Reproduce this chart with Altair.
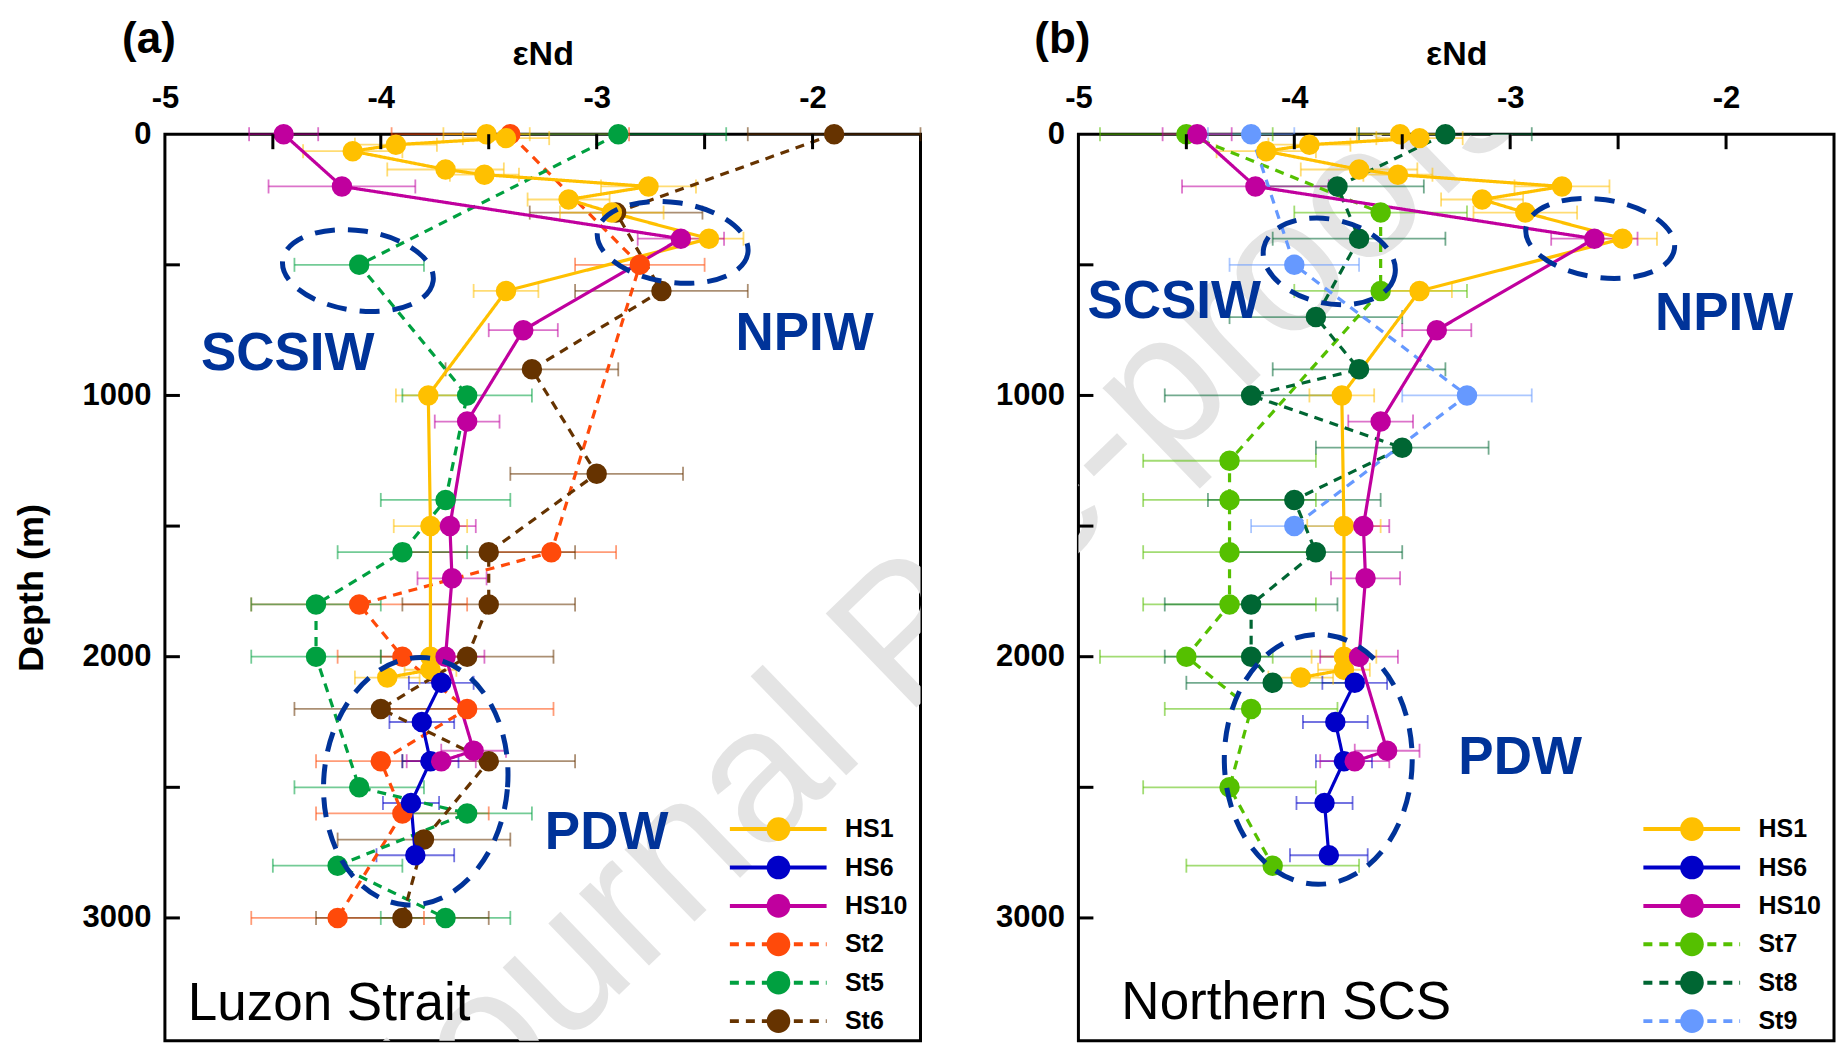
import altair as alt
import pandas as pd

FONT = "Liberation Sans, Arial, Helvetica, sans-serif"
NAVY = "#003399"

# ---------------- εNd depth profiles: depth (m), εNd, error ----------------
HS1_DEPTH = [0, 15, 40, 65, 135, 155, 200, 250, 300, 400, 600, 1000, 1500, 2000, 2050, 2080]
HS1_END = [-3.51, -3.42, -3.93, -4.13, -3.70, -3.52, -2.76, -3.13, -2.93, -2.48, -3.42, -3.78,
           -3.77, -3.77, -3.77, -3.97]
HS1_ERR = [0.20, 0.20, 0.19, 0.23, 0.27, 0.16, 0.22, 0.19, 0.24, 0.16, 0.15, 0.15, 0.17, 0.15,
           0.12, 0.15]

HS6_DEPTH = [2100, 2250, 2400, 2560, 2760]
HS6_END = [-3.72, -3.81, -3.77, -3.86, -3.84]
HS6_ERR = [0.15, 0.15, 0.13, 0.13, 0.18]

HS10_DEPTH = [0, 200, 400, 750, 1100, 1500, 1700, 2000, 2360, 2400]
HS10_END = [-4.45, -4.18, -2.61, -3.34, -3.60, -3.68, -3.67, -3.70, -3.57, -3.72]
HS10_ERR = [0.16, 0.34, 0.20, 0.16, 0.15, 0.12, 0.16, 0.18, 0.15, 0.16]

ST2_DEPTH = [0, 500, 1600, 1800, 2000, 2200, 2400, 2600, 3000]
ST2_END = [-3.40, -2.80, -3.21, -4.10, -3.90, -3.60, -4.00, -3.90, -4.20]
ST2_ERR = [0.55, 0.30, 0.30, 0.50, 0.30, 0.40, 0.30, 0.40, 0.40]

ST5_DEPTH = [0, 500, 1000, 1400, 1600, 1800, 2000, 2500, 2600, 2800, 3000]
ST5_END = [-2.90, -4.10, -3.60, -3.70, -3.90, -4.30, -4.30, -4.10, -3.60, -4.20, -3.70]
ST5_ERR = [0.50, 0.30, 0.30, 0.30, 0.30, 0.30, 0.30, 0.30, 0.30, 0.30, 0.30]

ST6_DEPTH = [0, 300, 600, 900, 1300, 1600, 1800, 2000, 2200, 2400, 2700, 3000]
ST6_END = [-1.90, -2.91, -2.70, -3.30, -3.00, -3.50, -3.50, -3.60, -4.00, -3.50, -3.80, -3.90]
ST6_ERR = [0.40] * 12

ST7_DEPTH = [0, 300, 600, 1250, 1400, 1600, 1800, 2000, 2200, 2500, 2800]
ST7_END = [-4.50, -3.60, -3.60, -4.30, -4.30, -4.30, -4.30, -4.50, -4.20, -4.30, -4.10]
ST7_ERR = [0.40] * 11

ST8_DEPTH = [0, 200, 400, 700, 900, 1000, 1200, 1400, 1600, 1800, 2000, 2100]
ST8_END = [-3.30, -3.80, -3.70, -3.90, -3.70, -4.20, -3.50, -4.00, -3.90, -4.20, -4.20, -4.10]
ST8_ERR = [0.40] * 12

ST9_DEPTH = [0, 500, 1000, 1500]
ST9_END = [-4.20, -4.00, -3.20, -4.00]
ST9_ERR = [0.20, 0.30, 0.30, 0.20]

PROFILES = {
    "HS1": (HS1_DEPTH, HS1_END, HS1_ERR),
    "HS6": (HS6_DEPTH, HS6_END, HS6_ERR),
    "HS10": (HS10_DEPTH, HS10_END, HS10_ERR),
    "St2": (ST2_DEPTH, ST2_END, ST2_ERR),
    "St5": (ST5_DEPTH, ST5_END, ST5_ERR),
    "St6": (ST6_DEPTH, ST6_END, ST6_ERR),
    "St7": (ST7_DEPTH, ST7_END, ST7_ERR),
    "St8": (ST8_DEPTH, ST8_END, ST8_ERR),
    "St9": (ST9_DEPTH, ST9_END, ST9_ERR),
}

SERIES = ["HS1", "HS6", "HS10", "St2", "St5", "St6", "St7", "St8", "St9"]
COLORS = ["#FFC000", "#0000C8", "#C0009E", "#FF4A0A", "#00A040", "#663300",
          "#55C000", "#006633", "#6699FF"]
DASHES = [[1, 0], [1, 0], [1, 0], [9, 7], [9, 7], [9, 7], [9, 7], [9, 7], [9, 7]]

X_LABELS = [-5, -4, -3, -2]
X_TICKS = [-4.5, -4, -3.5, -3, -2.5, -2]
Y_LABELS = [0, 1000, 2000, 3000]
Y_TICKS = [500, 1000, 1500, 2000, 2500, 3000]

W, H = 756, 907
XSCALE = alt.Scale(domain=[-5, -1.5], nice=False, zero=False)
YSCALE = alt.Scale(domain=[0, 3470], nice=False, zero=False, reverse=True)

COLOR = alt.Color("series:N", scale=alt.Scale(domain=SERIES, range=COLORS), legend=None)
DASH = alt.StrokeDash("series:N", scale=alt.Scale(domain=SERIES, range=DASHES), legend=None)

X_AXIS = alt.Axis(
    orient="top", values=X_LABELS, labelExpr="'' + datum.value", ticks=False, tickSize=0,
    domain=False, grid=False, labelFlush=False, labelOverlap=False, labelPadding=27,
    labelBaseline="alphabetic", labelFont=FONT, labelFontSize=31, labelFontWeight="bold",
    labelColor="black", titleFont=FONT, titleFontSize=34, titleFontWeight="bold",
    titleColor="black", titleY=-70, titleBaseline="alphabetic",
)
Y_AXIS = alt.Axis(
    orient="left", values=Y_LABELS, labelExpr="'' + datum.value", ticks=False, tickSize=0,
    domain=False, grid=False, labelFlush=False, labelOverlap=False, labelPadding=14,
    labelFont=FONT, labelFontSize=31, labelFontWeight="bold", labelColor="black",
    titleFont=FONT, titleFontSize=36, titleFontWeight="bold", titleColor="black",
    titleAngle=270, titleX=-122, titleY=H / 2, titleAlign="center", titleBaseline="alphabetic",
)


def xenc(field):
    return alt.X(field, type="quantitative", scale=XSCALE, axis=X_AXIS, title="εNd")


def yenc(field, ytitle):
    return alt.Y(field, type="quantitative", scale=YSCALE, axis=Y_AXIS, title=ytitle)


def profile_frame(names):
    rows = []
    for name in names:
        depth, end, err = PROFILES[name]
        for i, (d, v, e) in enumerate(zip(depth, end, err)):
            rows.append({"series": name, "idx": i, "depth": d, "end": v,
                         "lo": v - e, "hi": v + e})
    return pd.DataFrame(rows)


def ellipse_path(rx, ry):
    # closed ellipse from four cubic segments, scaled so the larger radius is 1
    m = max(rx, ry)
    a, b = rx / m, ry / m
    c = 0.5523
    return (f"M {a:.4f} 0 C {a:.4f} {c*b:.4f} {c*a:.4f} {b:.4f} 0 {b:.4f} "
            f"C {-c*a:.4f} {b:.4f} {-a:.4f} {c*b:.4f} {-a:.4f} 0 "
            f"C {-a:.4f} {-c*b:.4f} {-c*a:.4f} {-b:.4f} 0 {-b:.4f} "
            f"C {c*a:.4f} {-b:.4f} {a:.4f} {-c*b:.4f} {a:.4f} 0 Z")


def panel(stations, letter, region, region_x, region_depth, ellipses, labels, ytitle, mark_x):
    names = ["HS1", "HS6", "HS10"] + stations
    st_df = profile_frame(stations)
    hs_df = profile_frame(["HS1", "HS6", "HS10"])
    all_df = profile_frame(stations + ["HS1", "HS6", "HS10"])

    layers = []

    # faint diagonal watermark, clipped to the plotting area
    layers.append(
        alt.Chart(pd.DataFrame({"t": ["Journal Pre-proofs"]}))
        .mark_text(clip=True, angle=316, fontSize=190, color="#e4e4e4", font=FONT,
                   align="center", baseline="middle")
        .encode(text="t:N", x=alt.value(mark_x), y=alt.value(470))
    )

    # horizontal error bars with end caps
    eb = alt.Chart(all_df)
    layers.append(eb.mark_rule(strokeWidth=1.8, opacity=0.55).encode(
        x=xenc("lo"), x2="hi:Q", y=yenc("depth", ytitle), color=COLOR))
    layers.append(eb.mark_tick(orient="vertical", size=14, thickness=1.8, opacity=0.55).encode(
        x=xenc("lo"), y=yenc("depth", ytitle), color=COLOR))
    layers.append(eb.mark_tick(orient="vertical", size=14, thickness=1.8, opacity=0.55).encode(
        x=xenc("hi"), y=yenc("depth", ytitle), color=COLOR))

    # profile lines: stations (dashed) beneath the HS cores (solid)
    for df in (st_df, hs_df):
        layers.append(alt.Chart(df).mark_line(strokeWidth=3.2).encode(
            x=xenc("end"), y=yenc("depth", ytitle), color=COLOR, strokeDash=DASH,
            detail="series:N", order=alt.Order("idx:Q")))
    layers.append(alt.Chart(all_df).mark_circle(size=420, opacity=1).encode(
        x=xenc("end"), y=yenc("depth", ytitle), color=COLOR))

    # dashed ellipses marking the water masses
    ell = pd.DataFrame(ellipses, columns=["cx", "cy", "rx", "ry", "ang"])
    ell["path"] = [ellipse_path(r.rx, r.ry) for r in ell.itertuples()]
    ell["sz"] = [(2 * max(r.rx, r.ry)) ** 2 for r in ell.itertuples()]
    layers.append(alt.Chart(ell).mark_point(
        filled=False, color=NAVY, strokeWidth=5, strokeDash=[20, 13], opacity=1).encode(
        x=xenc("cx"), y=yenc("cy", ytitle),
        shape=alt.Shape("path:N", scale=None),
        size=alt.Size("sz:Q", scale=None),
        angle=alt.Angle("ang:Q", scale=None)))

    # water-mass labels
    lab = pd.DataFrame(labels, columns=["t", "lx", "ly"])
    layers.append(alt.Chart(lab).mark_text(
        font=FONT, fontSize=53, fontWeight="bold", color=NAVY, align="center",
        baseline="middle").encode(text="t:N", x=xenc("lx"), y=yenc("ly", ytitle)))

    # region name
    layers.append(alt.Chart(pd.DataFrame({"t": [region], "lx": [region_x],
                                          "ly": [region_depth]})).mark_text(
        font=FONT, fontSize=53, color="black", align="left", baseline="alphabetic").encode(
        text="t:N", x=xenc("lx"), y=yenc("ly", ytitle)))

    # legend drawn inside the frame, bottom right
    leg = alt.Chart(pd.DataFrame({"series": names, "row": list(range(len(names)))})) \
        .transform_calculate(ly="2660 + datum.row * 147", x1="-2.383", x2="-1.935",
                             mx="-2.158", tx="-1.85")
    layers.append(leg.mark_rule(strokeWidth=4).encode(
        x=xenc("x1"), x2="x2:Q", y=yenc("ly", ytitle), color=COLOR, strokeDash=DASH))
    layers.append(leg.mark_circle(size=560, opacity=1).encode(
        x=xenc("mx"), y=yenc("ly", ytitle), color=COLOR))
    layers.append(leg.mark_text(font=FONT, fontSize=25, fontWeight="bold", color="black",
                                align="left", baseline="middle").encode(
        text="series:N", x=xenc("tx"), y=yenc("ly", ytitle)))

    # inward-pointing ticks on the top and left frame
    layers.append(alt.Chart(pd.DataFrame({"v": X_TICKS})).mark_rule(
        color="black", strokeWidth=3).encode(x=xenc("v"), y=alt.value(0), y2=alt.value(15)))
    layers.append(alt.Chart(pd.DataFrame({"v": Y_TICKS})).mark_rule(
        color="black", strokeWidth=3).encode(y=yenc("v", ytitle), x=alt.value(0), x2=alt.value(15)))

    # panel letter
    layers.append(alt.Chart(pd.DataFrame({"t": [letter]})).mark_text(
        font=FONT, fontSize=44, fontWeight="bold", color="black", align="center",
        baseline="middle").encode(text="t:N", x=alt.value(-16), y=alt.value(-94)))

    return alt.layer(*layers).properties(width=W, height=H)


panel_a = panel(
    ["St2", "St5", "St6"], "(a)", "Luzon Strait", -4.894, 3391,
    [(-4.106, 522, 76, 40, 8), (-2.648, 414, 76, 40, 8), (-3.838, 2477, 92, 124, 5)],
    [("SCSIW", -4.431, 843), ("NPIW", -2.037, 766), ("PDW", -2.954, 2676)],
    "Depth (m)", 777,
)
panel_b = panel(
    ["St7", "St8", "St9"], "(b)", "Northern SCS", -4.801, 3387,
    [(-3.838, 487, 67, 42, 12), (-2.583, 399, 75, 39, 8), (-3.889, 2393, 94, 125, 0)],
    [("SCSIW", -4.556, 644), ("NPIW", -2.009, 690), ("PDW", -2.954, 2389)],
    None, 777 - 914,
)

chart = (
    alt.hconcat(panel_a, panel_b, spacing=158, bounds="flush")
    .properties(background="white", padding={"left": 12, "top": 16, "right": 0, "bottom": 0})
    .configure_view(stroke="black", strokeWidth=3)
)

chart.save("out.html", embed_options={"renderer": "svg", "actions": False})
